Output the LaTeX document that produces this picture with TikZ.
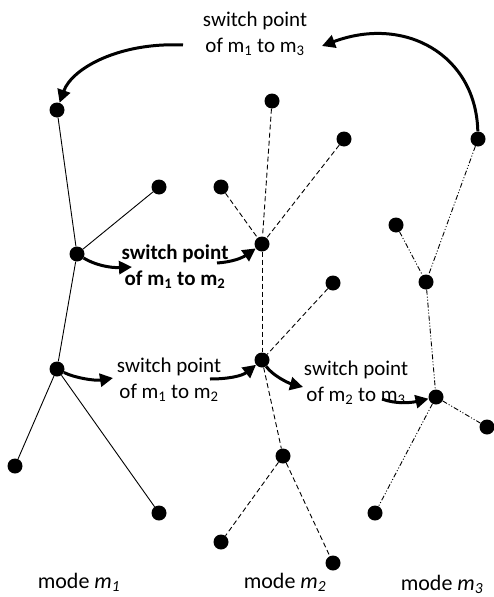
\documentclass[tikz,border=0pt]{standalone}
\usepackage{fontspec}
\setmainfont{Carlito}
\usetikzlibrary{arrows.meta}
\begin{document}
\begin{tikzpicture}[x=1pt,y=-1pt,
  dot/.style={circle,fill=black,inner sep=0pt,minimum size=15pt},
  edgeA/.style={line width=0.9pt},
  edgeB/.style={line width=0.9pt,dash pattern=on 5pt off 3pt},
  edgeC/.style={line width=0.9pt,dash pattern=on 5pt off 2pt on 1pt off 2pt on 1pt off 2pt},
  sw/.style={line width=3pt,-{Triangle[length=13pt,width=13pt]}},
  lbl/.style={align=center,font=\fontsize{21}{26}\selectfont,inner sep=0pt},
  modelbl/.style={font=\fontsize{22}{26}\selectfont,inner sep=0pt}]
\useasboundingbox (0,0) rectangle (493,597);
% mode m1
\node[dot] (a1) at (57,110) {};
\node[dot] (a2) at (159,187) {};
\node[dot] (a3) at (77,254) {};
\node[dot] (a4) at (57,369) {};
\node[dot] (a5) at (15,466) {};
\node[dot] (a6) at (159,513) {};
% mode m2
\node[dot] (b1) at (272,101) {};
\node[dot] (b2) at (344,139) {};
\node[dot] (b3) at (221,187) {};
\node[dot] (b4) at (262,244) {};
\node[dot] (b5) at (333,283) {};
\node[dot] (b6) at (262,360) {};
\node[dot] (b7) at (283,456) {};
\node[dot] (b8) at (221,542) {};
\node[dot] (b9) at (333,563) {};
% mode m3
\node[dot] (c1) at (478,139) {};
\node[dot] (c2) at (396,225) {};
\node[dot] (c3) at (426,282) {};
\node[dot] (c4) at (436,397) {};
\node[dot] (c5) at (487,427) {};
\node[dot] (c6) at (375,513) {};
% edges
\draw[edgeA] (a1) -- (a3) -- (a4) -- (a5);
\draw[edgeA] (a2) -- (a3);
\draw[edgeA] (a4) -- (a6);
\draw[edgeB] (b1) -- (b4);
\draw[edgeB] (b2) -- (b4);
\draw[edgeB] (b3) -- (b4);
\draw[edgeB] (b4) -- (b6);
\draw[edgeB] (b5) -- (b6);
\draw[edgeB] (b6) -- (b7);
\draw[edgeB] (b7) -- (b8);
\draw[edgeB] (b7) -- (b9);
\draw[edgeC] (c1) -- (c3);
\draw[edgeC] (c2) -- (c3);
\draw[edgeC] (c3) -- (c4);
\draw[edgeC] (c4) -- (c5);
\draw[edgeC] (c4) -- (c6);
% labels
\node[lbl] (t13) at (255,34) {switch point\\of m\textsubscript{1} to m\textsubscript{3}};
\node[lbl,font=\fontsize{21}{26}\selectfont\bfseries] (t12b) at (175,267) {switch point\\of m\textsubscript{1} to m\textsubscript{2}};
\node[lbl] (t12) at (169,380) {switch point\\of m\textsubscript{1} to m\textsubscript{2}};
\node[lbl] (t23) at (356,383) {switch point\\of m\textsubscript{2} to m\textsubscript{3}};
\node[modelbl] (l1) at (79,582) {mode \textit{m\textsubscript{1}}};
\node[modelbl] (l2) at (285,582) {mode \textit{m\textsubscript{2}}};
\node[modelbl] (l3) at (442,584) {mode \textit{m\textsubscript{3}}};
% switch arrows
\coordinate (p1) at (322,46);
\coordinate (p2) at (183,45);
\coordinate (p3) at (132,267);
\coordinate (p4) at (217,263);
\coordinate (p5) at (113,378);
\coordinate (p6) at (210,379);
\coordinate (p7) at (303,387);
\coordinate (p8) at (382,399);
\draw[sw] (c1) .. controls (476,55) and (405,15) .. (p1);
\draw[sw] (p2) .. controls (120,42) and (72,68) .. (a1);
\draw[sw] (a3) .. controls (95,265) and (110,268) .. (p3);
\draw[sw] (p4) .. controls (232,262) and (242,258) .. (b4);
\draw[sw] (a4) .. controls (75,378) and (95,381) .. (p5);
\draw[sw] (p6) .. controls (228,379) and (242,376) .. (b6);
\draw[sw] (b6) .. controls (272,375) and (288,383) .. (p7);
\draw[sw] (p8) .. controls (395,404) and (410,403) .. (c4);
\end{tikzpicture}
\end{document}
